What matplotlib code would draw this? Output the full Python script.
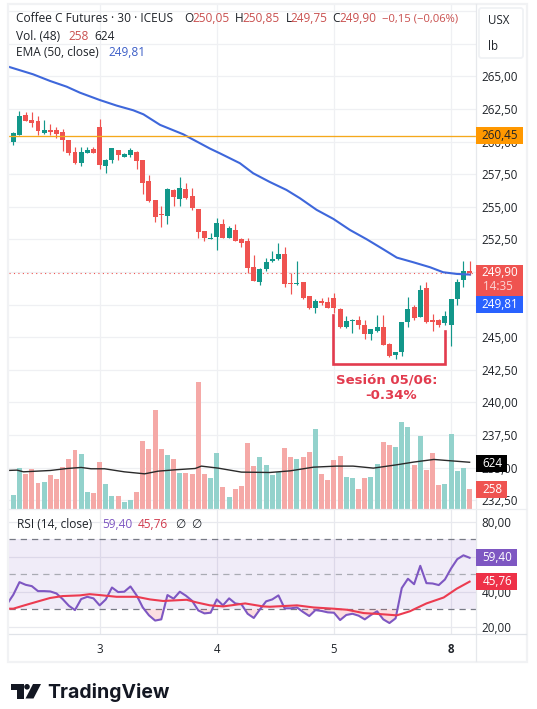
import numpy as np
import matplotlib
matplotlib.use('Agg')
import matplotlib.pyplot as plt
from matplotlib.patches import Rectangle, FancyBboxPatch, Polygon, Circle

plt.rcParams['font.family'] = ['Open Sans', 'DejaVu Sans']

W, H = 537, 709

# 30 min bars
opens = [259.95,260.55,262.05,261.65,261.6,260.65,260.9,260.9,260.75,260.15,259.2,258.4,259.15,259.45,261.15,258.1,258.6,259.35,258.8,258.95,
         259.2,258.6,257.0,255.55,254.45,254.3,256.3,255.6,256.4,255.85,254.85,253.15,252.5,252.7,253.7,252.65,253.25,252.55,252.4,250.4,
         249.25,250.2,250.85,251.0,251.4,249.15,249.05,249.25,248.15,247.25,247.8,247.7,248.0,247.2,245.8,246.25,246.35,245.95,245.25,245.5,
         245.8,244.5,243.65,243.9,246.2,247.35,246.55,248.8,246.35,246.35,246.1,245.95,247.95,249.4,250.05]
highs = [260.75,262.35,262.25,262.25,261.95,261.65,261.35,261.1,261.0,260.15,259.6,259.6,259.6,259.6,261.75,258.7,259.5,259.35,259.15,259.5,
         259.3,258.6,257.45,255.55,255.05,256.45,256.4,257.3,256.85,256.45,254.85,253.15,253.0,254.15,254.1,253.5,253.7,252.65,252.65,251.3,
         250.3,251.05,251.6,252.2,251.95,249.9,250.85,249.25,248.15,247.9,248.05,248.1,248.4,247.25,246.65,246.4,246.65,246.35,245.65,246.7,
         246.7,244.55,243.9,246.2,248.1,247.5,249.0,249.25,246.8,246.4,247.0,247.95,249.45,250.85,250.85]
lows = [259.75,260.5,261.6,261.1,260.5,260.6,260.5,260.25,259.3,259.0,258.3,258.15,259.15,259.1,257.9,257.6,258.4,258.6,258.8,258.85,
        257.9,256.0,255.35,253.85,253.45,253.7,255.05,255.1,255.6,254.75,252.6,252.4,252.5,251.7,252.65,252.65,252.4,251.9,249.95,249.3,
        249.0,250.1,250.8,250.9,248.85,248.3,249.0,247.95,247.2,246.9,247.45,247.25,246.85,245.7,245.7,245.35,245.65,244.9,244.8,245.4,
        244.4,243.5,243.35,243.55,245.8,246.35,246.55,246.1,245.5,245.8,245.95,244.35,247.45,248.85,249.75]
closes = [260.65,262.0,261.6,261.45,260.85,260.9,260.75,260.6,260.15,259.15,258.4,259.2,259.35,259.1,258.2,258.6,259.5,258.95,259.05,259.35,
          258.5,256.85,255.45,254.25,254.4,256.35,255.75,256.45,255.65,254.9,253.1,252.6,252.65,253.75,252.65,253.4,252.4,252.2,250.35,249.3,
          250.2,250.75,251.0,251.4,249.1,249.05,249.2,248.0,247.25,247.8,247.6,247.25,247.25,245.8,246.25,246.35,245.95,245.25,245.6,245.8,
          244.4,243.55,243.85,246.2,247.2,246.5,248.65,246.2,246.2,245.95,246.65,247.95,249.25,250.05,249.9]
volumes = [180,540,464,531,342,356,450,396,558,666,788,734,220,207,626,329,167,167,86,113,
           220,909,801,1328,801,720,666,477,477,464,1706,464,410,747,288,153,261,302,882,572,
           693,585,450,491,815,693,666,693,761,1071,464,383,653,707,423,410,261,410,423,599,
           896,855,828,1166,1098,585,977,518,747,315,329,1004,504,545,258]

# moving averages, read at their bends
ema_bars = [-0.65,3.2,5.95,8.65,10.8,14,16.75,19.45,21.1,23.8,27.55,31.9,33.5,36.75,38.9,41.6,44.3,46.5,49.2,51.9,54.6,57.3,60,62.2,64.9,67.6,69.7,71.9,74]
ema_vals = [265.73,265.17,264.66,264.22,263.76,263.2,262.77,262.41,262.1,261.29,260.57,259.47,259.11,258.35,257.58,256.91,256.3,255.66,254.77,254.08,253.23,252.52,251.75,251.11,250.75,250.37,249.99,249.86,249.81]
volma_bars = [-0.65,0.6,1.65,3.85,6,8.75,11,12.6,14.8,18,21.3,23.5,26.2,29.5,30.5,33.2,37,41.6,44.9,48.7,52.4,55.1,58.4,62.2,64.9,68.2,70.9,74]
volma_vals = [514,518,495,504,513,540,554,536,536,495,468,504,522,540,572,545,491,486,508,558,572,572,545,590,626,662,644,624]
rsi_vals = [38.26,45.47,43.95,43.19,40.34,40.34,40.15,39.0,35.8,32.0,29.5,35.8,37.1,36.2,32.2,35.6,42.4,39.8,40.0,43.0,
            37.9,31.0,26.5,23.5,24.2,38.1,36.0,40.0,37.7,34.8,29.3,27.6,28.0,35.6,32.2,36.2,33.3,32.8,27.4,25.0,
            29.9,34.5,35.6,37.9,30.5,30.5,31.0,28.4,26.1,29.5,29.0,28.2,28.0,23.8,26.7,27.4,26.3,24.2,26.7,28.8,
            24.2,22.1,24.8,42.1,47.4,44.3,54.8,44.9,44.7,43.8,47.0,53.3,58.6,60.8,59.4]
rsima_bars = [-0.65,0,1.6,4.05,5.95,7.95,10.8,12.4,13.95,16.75,20,22.15,24.3,28.1,29.7,31.9,34.05,37.6,40.5,41.6,46,48.7,51.9,54.1,56.8,59.5,62.2,64.3,67,69.8,71.9,74]
rsima_vals = [30.3,30.3,32.0,34.5,36.4,37.5,37.9,38.6,38.1,37.1,37.1,35.6,34.7,35.4,33.9,32.2,31.6,33.3,31.6,31.4,32.2,31.0,30.3,29.7,27.8,27.2,26.5,28.8,33.3,36.7,41.7,45.76]

price_ticks = [232.5,235,237.5,240,242.5,245,247.5,250,252.5,255,257.5,260,262.5,265,267.5,270]
price_labels = ['232,50','235,00','237,50','240,00','242,50','245,00','247,50','250,00','252,50','255,00','257,50','260,00','262,50','265,00','','']
rsi_ticks = [20,40,60,80]
rsi_labels = ['20,00','40,00','60,00','80,00']
day_bars = [14,33,52,71]
day_labels = ['3','4','5','8']

RED = '#EF5350'
TEAL = '#12978A'
GRID = '#EFF0F3'
TXT = '#1F2329'
ANNOT = '#E23B4E'

def px_axes(fig, x0, y0, x1, y1):
    return fig.add_axes([x0/W, 1-y1/H, (x1-x0)/W, (y1-y0)/H])

fig = plt.figure(figsize=(W/100, H/100), dpi=100, facecolor='white')

bars = np.arange(len(closes))
opens = np.array(opens)
closes = np.array(closes)
up = closes >= opens
colors = np.where(up, TEAL, RED)

# price pane
ax = px_axes(fig, 9.3, 4, 475.7, 508.5)
ax.set_xlim(-0.65, 74.99)
ax.set_ylim(231.87, 270.56)
ax.set_zorder(1)
ax.grid(True, color=GRID, lw=0.9)
ax.set_axisbelow(True)
ax.set_xticks(day_bars)
ax.set_xticklabels([])
ax.set_yticks(price_ticks)
ax.set_yticklabels(price_labels, fontsize=8.4, color=TXT)
for s in ax.spines.values():
    s.set_visible(False)

ax.vlines(bars, lows, highs, colors=colors, lw=0.85, zorder=2)
ax.bar(bars, np.abs(closes-opens), bottom=np.minimum(opens, closes), width=0.8, color=colors, zorder=3)
ax.plot(ema_bars, ema_vals, color='#3E67DB', lw=1.5, zorder=4)
ax.axhline(260.45, color='#F5A81C', lw=0.95, zorder=4)
ax.axhline(249.90, color=RED, lw=0.8, ls=(0, (1, 3)), zorder=1.5)

# session bracket
ax.plot([51.9, 51.9, 70.0, 70.0], [246.7, 242.95, 242.95, 245.5], color=ANNOT, lw=1.9, solid_joinstyle='miter', zorder=5)
ax.text(60.6, 241.75, 'Sesión 05/06:', color=ANNOT, fontsize=9.5, fontweight='bold', family='DejaVu Sans', ha='center', va='center')
ax.text(61.2, 240.5, '-0.34%', color=ANNOT, fontsize=9.5, fontweight='bold', family='DejaVu Sans', ha='center', va='center')

# volume overlay
ax_vol = ax.twinx()
ax_vol.set_zorder(2)
ax_vol.patch.set_visible(False)
ax_vol.set_ylim(0, 6808)
ax_vol.set_yticks([])
for s in ax_vol.spines.values():
    s.set_visible(False)
vol_colors = np.where(up, '#93D2CC', '#F5A9A7')
ax_vol.bar(bars, volumes, width=0.8, color=vol_colors)
ax_vol.plot(volma_bars, volma_vals, color='#2A2A2A', lw=1.0)
# twinx moves the price labels to the left, put them back
ax.yaxis.tick_right()
ax.tick_params(length=0, pad=4)

# rsi pane
ax_rsi = px_axes(fig, 9.3, 510, 475.7, 634.3)
ax_rsi.set_xlim(-0.65, 74.99)
ax_rsi.set_ylim(15.66, 86.7)
ax_rsi.grid(True, color='#E8E9EE', lw=0.9)
ax_rsi.set_axisbelow(True)
ax_rsi.set_xticks(day_bars)
ax_rsi.set_xticklabels(day_labels, fontsize=8.3, color=TXT)
ax_rsi.get_xticklabels()[3].set_fontweight('bold')
ax_rsi.set_yticks(rsi_ticks)
ax_rsi.set_yticklabels(rsi_labels, fontsize=8.4, color=TXT)
ax_rsi.yaxis.tick_right()
ax_rsi.tick_params(length=0, pad=4)
ax_rsi.tick_params(axis='x', pad=6)
for s in ax_rsi.spines.values():
    s.set_visible(False)
ax_rsi.axhspan(30, 70, color='#7E57C2', alpha=0.11, lw=0, zorder=1)
for lev, col in [(70, '#787B86'), (50, '#A9ABB3'), (30, '#787B86')]:
    ax_rsi.axhline(lev, color=col, lw=0.9, ls=(0, (5, 4)), zorder=1.5)
rsi = np.array(rsi_vals)
ax_rsi.fill_between(bars, rsi, 30, where=rsi < 30, interpolate=True, color='#F23645', alpha=0.16, lw=0, zorder=1.6)
ax_rsi.plot(np.r_[-1, bars], np.r_[33, rsi], color='#7E57C2', lw=1.5, zorder=3)
ax_rsi.plot(rsima_bars, rsima_vals, color='#EC3B50', lw=1.5, zorder=3.5)

# frame, scale tags and legends in pixel space
top = fig.add_axes([0, 0, 1, 1])
top.set_xlim(0, W)
top.set_ylim(H, 0)
top.axis('off')
top.set_zorder(5)

top.add_patch(Rectangle((8, 4), 518.5, 657.5, fill=False, ec='#F1F2F4', lw=1.6))
top.plot([475.7, 475.7], [4, 661], color='#E6E8EC', lw=0.9)
top.plot([9, 526], [634.3, 634.3], color='#E0E3E8', lw=0.9)
top.plot([9, 526], [509.3, 509.3], color='#ECEEF1', lw=0.9)

top.add_patch(FancyBboxPatch((479, 8), 44, 50, boxstyle='round,pad=0,rounding_size=2.5', fc='white', ec='#F0F2F5', lw=1.3, zorder=2))
top.text(488, 20.7, 'USX', fontsize=8.3, color=TXT, va='center', zorder=3)
top.text(488, 46.7, 'lb', fontsize=8.3, color=TXT, va='center', zorder=3)

def tag(y0, y1, x1, color, text, tcolor='white'):
    top.add_patch(Rectangle((475.7, y0), x1-475.7, y1-y0, fc=color, ec='none', zorder=3))
    top.text(x1-4.5, (y0+y1)/2, text, fontsize=8.4, color=tcolor, ha='right', va='center', zorder=4)

tag(127, 144, 522.7, '#FF9800', '260,45', TXT)
top.add_patch(Rectangle((475.7, 265), 47, 31, fc=RED, ec='none', zorder=3))
top.text(518, 273, '249,90', fontsize=8.4, color='white', ha='right', va='center', zorder=4)
top.text(513, 287, '14:35', fontsize=8.4, color='#FBD5D4', ha='right', va='center', zorder=4)
tag(296, 312.7, 522.7, '#2962FF', '249,81')
tag(455.3, 472, 506.7, 'black', '624')
tag(481, 497.7, 506.7, RED, '258')
tag(549, 566, 516.7, '#7E57C2', '59,40')
tag(573, 590, 516.7, '#EE3148', '45,76')

LEG = 8.6
LRED = '#C9504F'
top.text(16.5, 19, 'Coffee C Futures · 30 · ICEUS', fontsize=LEG, color=TXT, va='center')
for x, s, c in [(184, 'O', TXT), (192.7, '250,05', LRED), (235, 'H', TXT), (242.7, '250,85', LRED),
                (285.7, 'L', TXT), (290.7, '249,75', LRED), (332.7, 'C', TXT), (339.3, '249,90', LRED)]:
    top.text(x, 19, s, fontsize=LEG, color=c, va='center')
top.text(381.7, 19, '−0,15 (−0,06%)', fontsize=8.1, color=LRED, va='center')
top.text(16.5, 36, 'Vol. (48)', fontsize=LEG, color=TXT, va='center')
top.text(68.3, 36, '258', fontsize=LEG, color=LRED, va='center')
top.text(94.7, 36, '624', fontsize=LEG, color=TXT, va='center')
top.text(16.5, 52.7, 'EMA (50, close)', fontsize=LEG, color=TXT, va='center')
top.text(108.7, 52.7, '249,81', fontsize=LEG, color='#3D5FC7', va='center')
top.text(17.3, 524, 'RSI (14, close)', fontsize=LEG, color=TXT, va='center')
top.text(102.3, 524, '59,40', fontsize=LEG, color='#7E57C2', va='center')
top.text(137.7, 524, '45,76', fontsize=LEG, color='#D13B4E', va='center')
top.text(175, 524, '∅', fontsize=LEG, color=TXT, va='center', family='DejaVu Sans')
top.text(191, 524, '∅', fontsize=LEG, color=TXT, va='center', family='DejaVu Sans')

# logo
LOGO = '#131722'
top.add_patch(Polygon([(11, 684), (24, 684), (24, 698.5), (17, 698.5), (17, 689.8), (11, 689.8)], fc=LOGO, ec='none'))
top.add_patch(Circle((27, 686.8), 2.8, fc=LOGO, ec='none'))
top.add_patch(Polygon([(33, 684), (41, 684), (33.5, 698.5), (25.5, 698.5)], fc=LOGO, ec='none'))
top.text(47.5, 698, 'TradingView', fontsize=14, fontweight='bold', color=LOGO, family='Inter', va='baseline')

fig.savefig('out.png', dpi=100)
